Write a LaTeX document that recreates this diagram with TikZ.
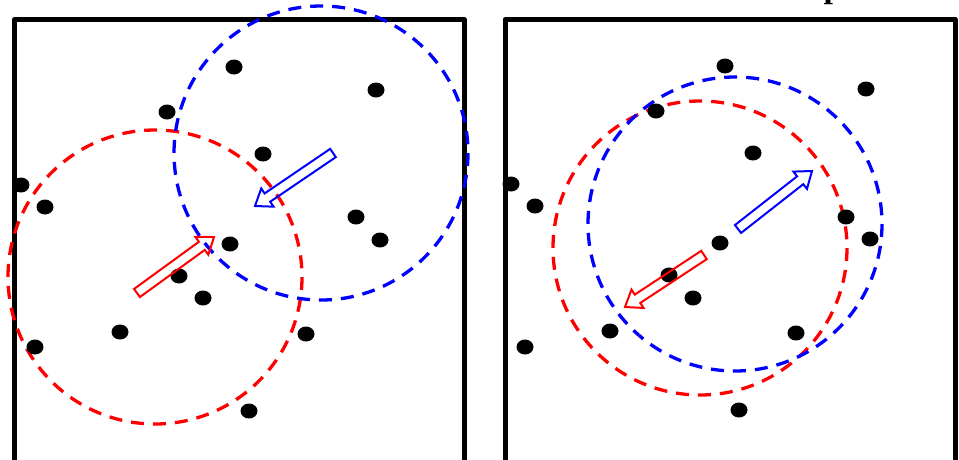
\documentclass[tikz,border=0pt]{standalone}
\usepackage{fontspec}
\setmainfont{Liberation Serif}
\usetikzlibrary{calc}
\tikzset{
  frame/.style={line width=5pt, line join=round},
  ring/.style={line width=3.3pt, dash pattern=on 13pt off 9pt},
  dot/.style={fill=black, draw=none, ellipse, minimum width=17pt, minimum height=15pt, inner sep=0pt},
  blk/.style={line width=2pt, line join=miter},
}
\usetikzlibrary{shapes.geometric}
\newcommand{\blockarr}[3]{% color, tail, tip
  \draw[blk, #1]
    ($(#2)!5pt!90:(#3)$) --
    ($($(#3)!15pt!(#2)$)!5pt!-90:(#2)$) --
    ($($(#3)!15pt!(#2)$)!11pt!-90:(#2)$) --
    (#3) --
    ($($(#3)!15pt!(#2)$)!11pt!90:(#2)$) --
    ($($(#3)!15pt!(#2)$)!5pt!90:(#2)$) --
    ($(#2)!5pt!-90:(#3)$) -- cycle;}
\begin{document}
\begin{tikzpicture}[x=1pt,y=-1pt]
\useasboundingbox (0,0) rectangle (959,459);
\fill[white] (0,0) rectangle (959,459);
% cropped title glyph
\node[anchor=base, inner sep=0pt, font=\fontsize{34}{34}\selectfont\bfseries] (ttl) at (833,-3) {p};
% frames
\draw[frame] (14.5,470) -- (14.5,19.5) -- (464,19.5) -- (464,470);
\draw[frame] (505,470) -- (505,19.5) -- (955,19.5) -- (955,470);
% left panel circles
\draw[ring, red] (155,277) circle (147);
\draw[ring, blue] (321,153) circle (147);
% right panel circles
\draw[ring, red] (700,248) circle (147);
\draw[ring, blue] (735,224) circle (147);
% dots left
\foreach \i/\x/\y in {1/234/67, 2/376/90, 3/167/112, 4/263/154, 5/21/185, 6/45/207, 7/356/217, 8/380/240, 9/230/244, 10/179/276, 11/203/298, 12/120/332, 13/306/334, 14/35/347, 15/249/411}
  \node[dot] (l\i) at (\x,\y) {};
% dots right
\foreach \i/\x/\y in {1/725/66, 2/866/89, 3/656/111, 4/753/153, 5/511/184, 6/535/206, 7/846/217, 8/870/239, 9/720/243, 10/669/275, 11/693/298, 12/610/331, 13/796/333, 14/525/347, 15/739/410}
  \node[dot] (r\i) at (\x,\y) {};
% arrows
\coordinate (la1) at (137,293); \coordinate (la2) at (214,237);
\coordinate (lb1) at (333,153); \coordinate (lb2) at (255,206);
\coordinate (rb1) at (738,229); \coordinate (rb2) at (812,171);
\coordinate (ra1) at (704,255); \coordinate (ra2) at (625,307);
\blockarr{red}{la1}{la2}
\blockarr{blue}{lb1}{lb2}
\blockarr{blue}{rb1}{rb2}
\blockarr{red}{ra1}{ra2}
\end{tikzpicture}
\end{document}
